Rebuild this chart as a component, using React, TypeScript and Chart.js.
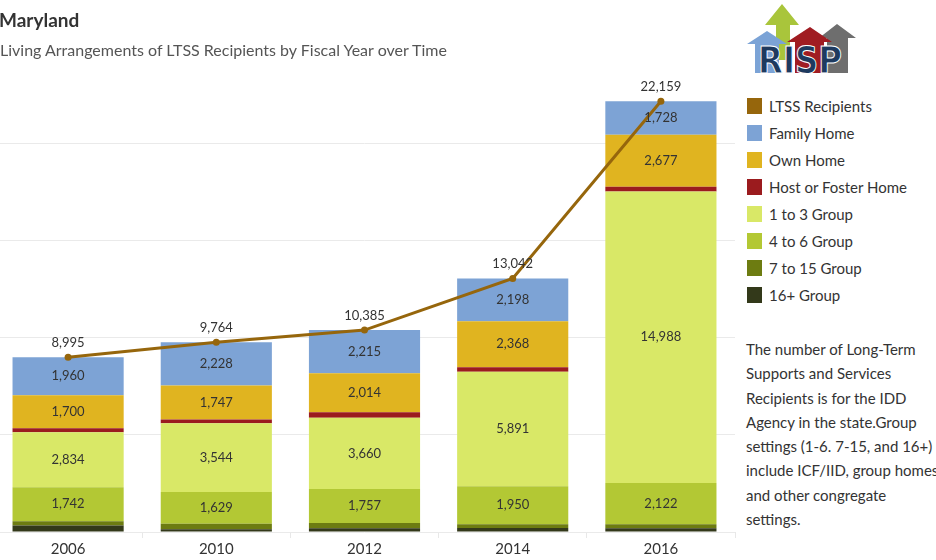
import React, { useEffect, useRef } from "react";
import { Chart, registerables } from "chart.js";

Chart.register(...registerables);

// ---- Data ----
const years = ["2006", "2010", "2012", "2014", "2016"];
const ltssRecipients = [8995, 9764, 10385, 13042, 22159];
const familyHome = [1960, 2228, 2215, 2198, 1728];
const ownHome = [1700, 1747, 2014, 2368, 2677];
const hostFosterHome = [200, 190, 280, 230, 240];
const group1to3 = [2834, 3544, 3660, 5891, 14988];
const group4to6 = [1742, 1629, 1757, 1950, 2122];
const group7to15 = [230, 290, 260, 205, 210];
const group16plus = [329, 136, 199, 200, 194];
const gridTicks = [0, 5000, 10000, 15000, 20000];

const legendItems = [
  { label: "LTSS Recipients", color: "#96660C" },
  { label: "Family Home", color: "#7DA3D5" },
  { label: "Own Home", color: "#E0B420" },
  { label: "Host or Foster Home", color: "#9B1B1E" },
  { label: "1 to 3 Group", color: "#D9E867" },
  { label: "4 to 6 Group", color: "#B3C834" },
  { label: "7 to 15 Group", color: "#6D7C11" },
  { label: "16+ Group", color: "#33391A" },
];

const noteLines = [
  "The number of Long-Term",
  "Supports and Services",
  "Recipients is for the IDD",
  "Agency in the state.Group",
  "settings (1-6. 7-15, and 16+)",
  "include ICF/IID, group homes,",
  "and other congregate",
  "settings.",
];

const colorOf = (label: string) => legendItems.find((l) => l.label === label)!.color;

const labelPlugin = {
  id: "valueLabels",
  afterDatasetsDraw(chart: any) {
    const ctx = chart.ctx;
    ctx.save();
    ctx.font = "13px Lato";
    ctx.fillStyle = "#333333";
    ctx.textAlign = "center";
    chart.data.datasets.forEach((ds: any, i: number) => {
      if (!ds.showLabels) return;
      const meta = chart.getDatasetMeta(i);
      meta.data.forEach((el: any, j: number) => {
        const v = ds.data[j];
        const text = Number(v).toLocaleString("en-US");
        if (ds.type === "line") {
          ctx.textBaseline = "bottom";
          ctx.fillText(text, el.x, el.y - 8);
        } else {
          const p = el.getProps(["x", "y", "base"], true);
          ctx.textBaseline = "middle";
          ctx.fillText(text, p.x, (p.y + p.base) / 2);
        }
      });
    });
    ctx.restore();
  },
};

function Logo() {
  return (
    <svg width={120} height={80} style={{ position: "absolute", left: 740, top: 0 }}>
      <polygon points="42,4 25,25 36,25 36,60 50,60 50,25 59,25" fill="#A9C53B" />
      <polygon points="97,24 79,38 87,38 87,73 108,73 108,38 116,38" fill="#6E6E6E" />
      <polygon points="27,31 7,44 15,44 15,73 39,73 39,44 47,44" fill="#7BA3D6" />
      <polygon points="70,27 47,42 55,42 55,73 84,73 84,42 92,42" fill="#A01C22" />
      <text
        x={18}
        y={73}
        fontFamily="DejaVu Sans"
        fontWeight={700}
        fontSize={37}
        textLength={84}
        lengthAdjust="spacingAndGlyphs"
        fill="#1E3A5F"
        stroke="#ffffff"
        strokeWidth={1}
      >
        RISP
      </text>
    </svg>
  );
}

export default function App() {
  const canvasRef = useRef<HTMLCanvasElement | null>(null);

  useEffect(() => {
    if (!canvasRef.current) return;
    Chart.defaults.font.family = "Lato";
    const barDs = (label: string, data: number[], showLabels: boolean) => ({
      type: "bar" as const,
      label,
      data,
      backgroundColor: colorOf(label),
      borderWidth: 0,
      stack: "bars",
      showLabels,
      barPercentage: 0.75,
      categoryPercentage: 1,
    });
    const chart = new Chart(canvasRef.current, {
      type: "bar",
      data: {
        labels: years,
        datasets: [
          {
            type: "line" as const,
            label: "LTSS Recipients",
            data: ltssRecipients,
            borderColor: colorOf("LTSS Recipients"),
            backgroundColor: colorOf("LTSS Recipients"),
            borderWidth: 3,
            pointRadius: 3.5,
            pointBackgroundColor: colorOf("LTSS Recipients"),
            pointBorderWidth: 0,
            tension: 0,
            stack: "total",
            showLabels: true,
          } as any,
          barDs("16+ Group", group16plus, false),
          barDs("7 to 15 Group", group7to15, false),
          barDs("4 to 6 Group", group4to6, true),
          barDs("1 to 3 Group", group1to3, true),
          barDs("Host or Foster Home", hostFosterHome, false),
          barDs("Own Home", ownHome, true),
          barDs("Family Home", familyHome, true),
        ],
      },
      options: {
        animation: false,
        responsive: false,
        layout: { padding: { top: 46, left: 0, right: 0, bottom: 0 } },
        plugins: {
          legend: { display: false },
          tooltip: { enabled: false },
          title: { display: false },
        },
        scales: {
          x: {
            stacked: true,
            offset: true,
            grid: {
              offset: true,
              drawOnChartArea: false,
              drawTicks: true,
              tickLength: 6,
              color: "#e8e8e8",
            },
            border: { display: false },
            ticks: { color: "#333333", font: { size: 15 }, padding: 2 },
            afterFit: (s: any) => {
              s.height = 28;
            },
          },
          y: {
            stacked: true,
            min: 0,
            max: 25000,
            grid: { color: "#eaeaea", drawTicks: false },
            border: { display: false },
            ticks: { display: false },
            afterBuildTicks: (s: any) => {
              s.ticks = gridTicks.map((v) => ({ value: v }));
            },
            afterFit: (s: any) => {
              s.width = 0;
            },
          },
        },
      },
      plugins: [labelPlugin],
    });
    return () => chart.destroy();
  }, []);

  return (
    <div
      style={{
        position: "absolute",
        left: 0,
        top: 0,
        width: 936,
        height: 560,
        overflow: "hidden",
        background: "#ffffff",
        fontFamily: "Lato",
      }}
    >
      <canvas
        ref={canvasRef}
        width={749}
        height={560}
        style={{ position: "absolute", left: -10, top: 0, width: 749, height: 560 }}
      />
      <div
        style={{
          position: "absolute",
          left: -1,
          top: 9,
          fontSize: 19,
          lineHeight: "22px",
          fontWeight: 700,
          color: "#333333",
          whiteSpace: "nowrap",
        }}
      >
        Maryland
      </div>
      <div
        style={{
          position: "absolute",
          left: 0,
          top: 40,
          fontSize: 16,
          lineHeight: "20px",
          color: "#555555",
          whiteSpace: "nowrap",
        }}
      >
        Living Arrangements of LTSS Recipients by Fiscal Year over Time
      </div>
      <Logo />
      {legendItems.map((it, i) => (
        <div
          key={it.label}
          style={{
            position: "absolute",
            left: 747,
            top: 96 + i * 27,
            height: 20,
            display: "flex",
            alignItems: "center",
            whiteSpace: "nowrap",
          }}
        >
          <span
            style={{ display: "inline-block", width: 15, height: 16, background: it.color, marginRight: 7 }}
          />
          <span style={{ fontSize: 15, color: "#333333" }}>{it.label}</span>
        </div>
      ))}
      <div style={{ position: "absolute", left: 746, top: 337, fontSize: 15, color: "#333333" }}>
        {noteLines.map((l, i) => (
          <div key={i} style={{ lineHeight: "24.3px", whiteSpace: "nowrap" }}>
            {l}
          </div>
        ))}
      </div>
    </div>
  );
}
